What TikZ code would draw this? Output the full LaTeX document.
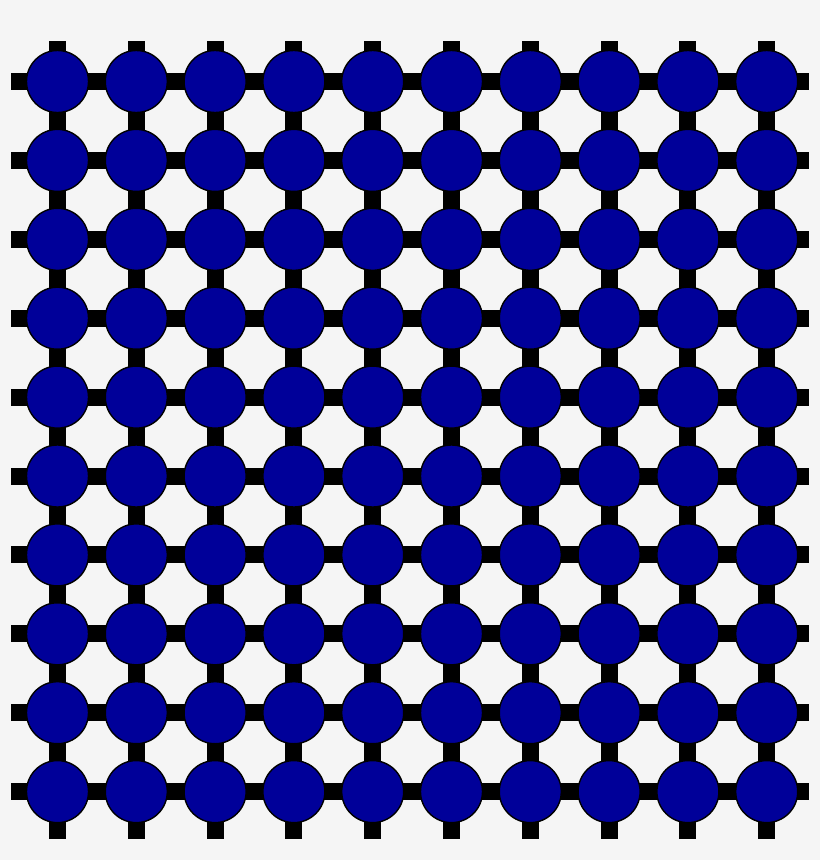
\documentclass[tikz,border=0pt]{standalone}
\usetikzlibrary{backgrounds}
\definecolor{sitefill}{RGB}{0,0,153}
\definecolor{bgcol}{RGB}{245,245,245}
\begin{document}
\begin{tikzpicture}[x=1pt,y=-1pt,
  site/.style={circle,draw=black,line width=1.4pt,fill=sitefill,minimum size=62pt,inner sep=0pt},
  bond/.style={line width=17pt,draw=black,line cap=butt}]
\useasboundingbox (0,0) rectangle (820,860);
\foreach \i in {0,...,9}{
  \foreach \j in {0,...,9}{
    \node[site] (n-\i-\j) at ({57.5+78.8*\i},{81.5+78.9*\j}) {};
  }
}
\foreach \j in {0,...,9}{
  \coordinate (hl-\j) at (11,{81.5+78.9*\j});
  \coordinate (hr-\j) at (809,{81.5+78.9*\j});
}
\foreach \i in {0,...,9}{
  \coordinate (vt-\i) at ({57.5+78.8*\i},41);
  \coordinate (vb-\i) at ({57.5+78.8*\i},839);
}
\begin{scope}[on background layer]
  \fill[bgcol] (0,0) rectangle (820,860);
  \foreach \j in {0,...,9}{
    \draw[bond] (hl-\j) -- (n-0-\j.center);
    \draw[bond] (n-9-\j.center) -- (hr-\j);
    \foreach \i in {0,...,8}{
      \pgfmathtruncatemacro{\k}{\i+1}
      \draw[bond] (n-\i-\j.center) -- (n-\k-\j.center);
    }
  }
  \foreach \i in {0,...,9}{
    \draw[bond] (vt-\i) -- (n-\i-0.center);
    \draw[bond] (n-\i-9.center) -- (vb-\i);
    \foreach \j in {0,...,8}{
      \pgfmathtruncatemacro{\k}{\j+1}
      \draw[bond] (n-\i-\j.center) -- (n-\i-\k.center);
    }
  }
\end{scope}
\end{tikzpicture}
\end{document}
